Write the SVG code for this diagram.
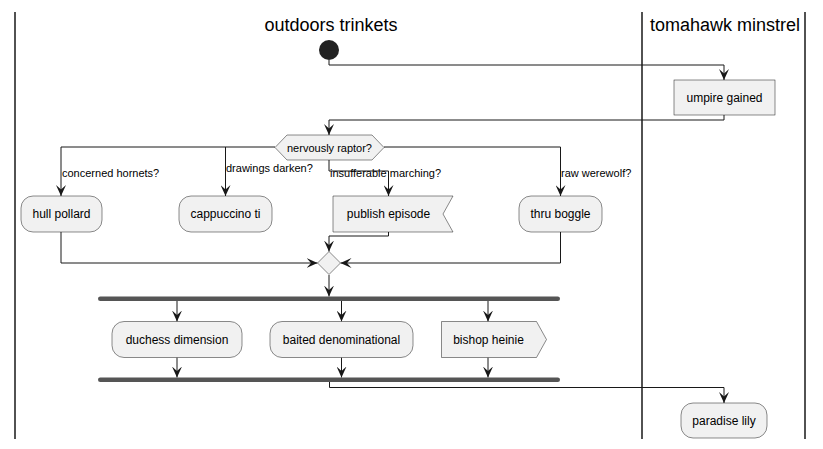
<svg xmlns="http://www.w3.org/2000/svg" width="823" height="449" viewBox="0 0 823 449">
<style>
.lane{stroke:#181818;stroke-width:1.5;fill:none}
.title{font-family:"Liberation Sans",Arial,sans-serif;font-size:18px;fill:#000;text-anchor:middle}
.act{fill:#F1F1F1;stroke:#181818;stroke-width:0.5}
.t{font-family:"Liberation Sans",Arial,sans-serif;font-size:12px;fill:#000;text-anchor:middle}
.lbl{font-family:"Liberation Sans",Arial,sans-serif;font-size:11px;fill:#000}
.c{fill:none;stroke:#181818;stroke-width:1}
.bar{fill:#555555;stroke:none}
</style>
<defs>
<marker id="arr" viewBox="0 0 11 10" refX="11" refY="5" markerWidth="11" markerHeight="10" markerUnits="userSpaceOnUse" orient="auto">
<path d="M0,0 L11,5 L0,10 L4.5,5 Z" fill="#181818"/>
</marker>
</defs>
<rect width="823" height="449" fill="#FFFFFF"/>
<g id="lanes">
<line class="lane" x1="15" y1="12" x2="15" y2="439"/>
<line class="lane" x1="642" y1="12" x2="642" y2="439"/>
<line class="lane" x1="805" y1="12" x2="805" y2="439"/>
<text class="title" x="331" y="31">outdoors trinkets</text>
<text class="title" x="725" y="31">tomahawk minstrel</text>
</g>
<g id="connectors">
<path class="c" d="M329,60 V65 H724 V80" marker-end="url(#arr)"/>
<path class="c" d="M724,115 V120 H329 V135" marker-end="url(#arr)"/>
<path class="c" d="M275,147 H61 V196" marker-end="url(#arr)"/>
<path class="c" d="M225.5,147 V196" marker-end="url(#arr)"/>
<path class="c" d="M329,160 V171 H388.5 V196" marker-end="url(#arr)"/>
<path class="c" d="M384,147 H560.5 V196" marker-end="url(#arr)"/>
<path class="c" d="M61,232 V263 H317.5" marker-end="url(#arr)"/>
<path class="c" d="M560.5,232 V263 H340.5" marker-end="url(#arr)"/>
<path class="c" d="M388.5,232 V236 H329 V251.5" marker-end="url(#arr)"/>
<path class="c" d="M329,275 V296.5" marker-end="url(#arr)"/>
<path class="c" d="M177,301 V321.5" marker-end="url(#arr)"/>
<path class="c" d="M341.5,301 V321.5" marker-end="url(#arr)"/>
<path class="c" d="M488,301 V321.5" marker-end="url(#arr)"/>
<path class="c" d="M177,357.5 V377.5" marker-end="url(#arr)"/>
<path class="c" d="M341.5,357.5 V377.5" marker-end="url(#arr)"/>
<path class="c" d="M488,357.5 V377.5" marker-end="url(#arr)"/>
<path class="c" d="M329.5,381.5 V387.5 H724 V403" marker-end="url(#arr)"/>
<text class="lbl" x="62" y="177">concerned hornets?</text>
<text class="lbl" x="226" y="172">drawings darken?</text>
<text class="lbl" x="330" y="177">insufferable marching?</text>
<text class="lbl" x="561" y="177">raw werewolf?</text>
</g>
<g id="start">
<circle cx="329" cy="50" r="10" fill="#222222"/>
</g>
<g id="umpire-gained">
<rect class="act" x="674" y="80" width="101" height="35"/>
<text class="t" x="724.5" y="102">umpire gained</text>
</g>
<g id="nervously-raptor">
<polygon class="act" points="275,147.5 287,135 372,135 384,147.5 372,160 287,160"/>
<text class="lbl" x="329.5" y="151.5" text-anchor="middle">nervously raptor?</text>
</g>
<g id="hull-pollard">
<rect class="act" x="21" y="196" width="81" height="36" rx="12" ry="12"/>
<text class="t" x="61.5" y="218">hull pollard</text>
</g>
<g id="cappuccino-ti">
<rect class="act" x="179" y="196" width="93" height="36" rx="12" ry="12"/>
<text class="t" x="225.5" y="218">cappuccino ti</text>
</g>
<g id="publish-episode">
<polygon class="act" points="333,196 453,196 443,214 453,232 333,232"/>
<text class="t" x="388.5" y="218">publish episode</text>
</g>
<g id="thru-boggle">
<rect class="act" x="519" y="196" width="83" height="36" rx="12" ry="12"/>
<text class="t" x="560.5" y="218">thru boggle</text>
</g>
<g id="merge">
<polygon class="act" points="329,251.5 340.5,263 329,274.5 317.5,263"/>
</g>
<g id="fork">
<rect class="bar" x="98" y="296.5" width="462" height="4.5" rx="2.25" ry="2.25"/>
</g>
<g id="duchess-dimension">
<rect class="act" x="112" y="321.5" width="130" height="36" rx="12" ry="12"/>
<text class="t" x="177" y="343.5">duchess dimension</text>
</g>
<g id="baited-denominational">
<rect class="act" x="270" y="321.5" width="143" height="36" rx="12" ry="12"/>
<text class="t" x="341.5" y="343.5">baited denominational</text>
</g>
<g id="bishop-heinie">
<polygon class="act" points="441.5,321.5 536.5,321.5 546.5,339.5 536.5,357.5 441.5,357.5"/>
<text class="t" x="488.5" y="343.5">bishop heinie</text>
</g>
<g id="join">
<rect class="bar" x="98" y="377.5" width="462" height="4.5" rx="2.25" ry="2.25"/>
</g>
<g id="paradise-lily">
<rect class="act" x="681" y="403" width="86" height="35" rx="12" ry="12"/>
<text class="t" x="724" y="425">paradise lily</text>
</g>
</svg>
